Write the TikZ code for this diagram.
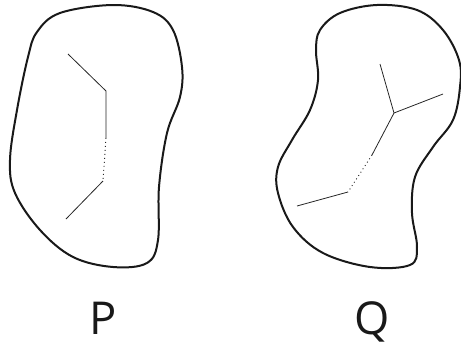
\documentclass[tikz,border=0pt]{standalone}
\usepackage{fontspec}
\setmainfont{Open Sans}
\usepackage{tikz}

\begin{document}
\begin{tikzpicture}[
      x=0.75pt, y=-0.75pt,
      umriss/.style={draw=black!90, line width=1.5pt},
      linie/.style={draw=black!85, line width=0.6pt},
      punktiert/.style={draw=black!85, line width=0.7pt, dash pattern=on 0.7pt off 2.3pt},
      beschriftung/.style={font=\fontsize{34}{38}\selectfont, text=black!90, anchor=base, inner sep=0pt}
    ]
    \useasboundingbox (0,0) rectangle (461,343);

    % ---------- Gebiet P ----------
    % glatter geschlossener Umriss
    \draw[umriss] plot[smooth cycle, tension=0.6] coordinates {
      (113,5) (60,13) (37,32) (28,57) (17,110) (10,160) (15,193) (40,230)
      (73,257) (113,267) (147,263) (158,240) (159,187) (167,133) (180,97)
      (182,67) (173,30) (153,12)};
    % Streckenzug mit punktiertem Mittelstueck
    \coordinate (p1) at (68,54);
    \coordinate (p2) at (106,91);
    \coordinate (p3) at (106,138);
    \coordinate (p4) at (103,181);
    \coordinate (p5) at (66,219);
    \draw[linie] (p1) -- (p2) -- (p3);
    \draw[punktiert] (p3) -- (p4);
    \draw[linie] (p4) -- (p5);
    \node[beschriftung] (labelP) at (103,334) {P};

    % ---------- Gebiet Q ----------
    \draw[umriss] plot[smooth cycle, tension=0.6] coordinates {
      (377,5) (340,13) (320,30) (316,50) (318,80) (310,110) (292,140)
      (278,167) (278,193) (293,227) (323,253) (370,267) (410,265) (417,247)
      (412,213) (415,177) (433,147) (453,120) (460,87) (459,60) (443,30)
      (417,10)};
    % Verzweigung mit punktiertem Mittelstueck
    \coordinate (q1) at (380,64);
    \coordinate (qv) at (394,113);
    \coordinate (q2) at (443,94);
    \coordinate (q3) at (372,155);
    \coordinate (q4) at (348,192);
    \coordinate (q5) at (297,206);
    \draw[linie] (q1) -- (qv) -- (q2);
    \draw[linie] (qv) -- (q3);
    \draw[punktiert] (q3) -- (q4);
    \draw[linie] (q4) -- (q5);
    \node[beschriftung] (labelQ) at (372,334) {Q};
  \end{tikzpicture}
\end{document}
